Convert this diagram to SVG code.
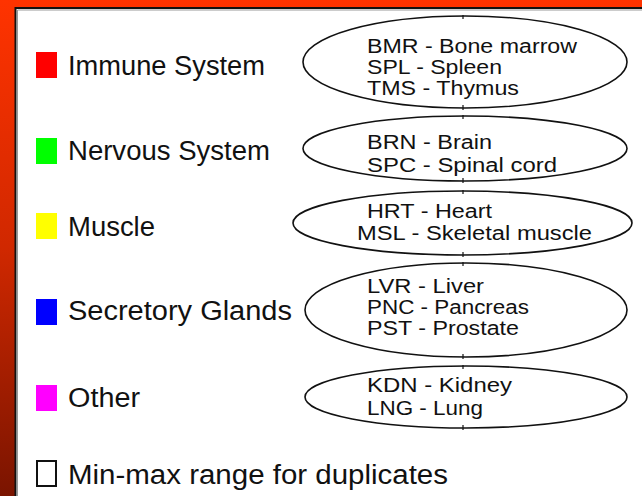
<svg xmlns="http://www.w3.org/2000/svg" width="642" height="496" viewBox="0 0 642 496">
<defs>
<linearGradient id="bg" x1="0" y1="0" x2="0" y2="1">
<stop offset="0" stop-color="#ff3300"/>
<stop offset="0.5" stop-color="#d02800"/>
<stop offset="1" stop-color="#7a1400"/>
</linearGradient>
<style>
.lg{font-family:"Liberation Sans","DejaVu Sans",sans-serif;font-size:27px;fill:#111}
.et{font-family:"Liberation Sans","DejaVu Sans",sans-serif;font-size:20px;fill:#111}
.ell{fill:none;stroke:#111;stroke-width:1.6}
.tick{stroke:#111;stroke-width:1.2}
</style>
</defs>
<rect x="0" y="0" width="642" height="496" fill="url(#bg)"/>
<rect x="16" y="9" width="626" height="487" fill="#fff"/>
<path d="M15.5,496 V8 H642" fill="none" stroke="#111" stroke-width="2"/>
<path d="M17.5,496 V10 H642" fill="none" stroke="#999" stroke-width="1"/>

<g id="immune">
<rect x="36" y="52" width="21" height="26" fill="#ff0000"/>
<text class="lg" x="68" y="75" textLength="197" lengthAdjust="spacingAndGlyphs">Immune System</text>
</g>
<g id="nervous">
<rect x="36" y="138" width="21" height="26" fill="#00ff00"/>
<text class="lg" x="68" y="160" textLength="202" lengthAdjust="spacingAndGlyphs">Nervous System</text>
</g>
<g id="muscle">
<rect x="36" y="213" width="21" height="26" fill="#ffff00"/>
<text class="lg" x="68" y="236" textLength="87" lengthAdjust="spacingAndGlyphs">Muscle</text>
</g>
<g id="secretory">
<rect x="36" y="299" width="21" height="26" fill="#0000ff"/>
<text class="lg" x="68" y="320" textLength="224" lengthAdjust="spacingAndGlyphs">Secretory Glands</text>
</g>
<g id="other">
<rect x="36" y="385" width="21" height="26" fill="#ff00ff"/>
<text class="lg" x="68" y="407" textLength="72" lengthAdjust="spacingAndGlyphs">Other</text>
</g>
<g id="minmax">
<rect x="37" y="461" width="19" height="25" fill="#fff" stroke="#111" stroke-width="2"/>
<text class="lg" x="68" y="484" textLength="380" lengthAdjust="spacingAndGlyphs">Min-max range for duplicates</text>
</g>

<g id="e-immune">
<ellipse class="ell" cx="465" cy="62" rx="162" ry="46"/>
<line class="tick" x1="463" y1="15" x2="463" y2="19"/>
<line class="tick" x1="463" y1="105" x2="463" y2="110"/>
<text class="et" x="367" y="53" textLength="210" lengthAdjust="spacingAndGlyphs">BMR - Bone marrow</text>
<text class="et" x="367" y="74" textLength="135" lengthAdjust="spacingAndGlyphs">SPL - Spleen</text>
<text class="et" x="367" y="95" textLength="152" lengthAdjust="spacingAndGlyphs">TMS - Thymus</text>
</g>
<g id="e-nervous">
<ellipse class="ell" cx="465" cy="148.5" rx="162" ry="32.5"/>
<line class="tick" x1="463" y1="115" x2="463" y2="119"/>
<line class="tick" x1="463" y1="178" x2="463" y2="183"/>
<text class="et" x="367" y="149" textLength="125" lengthAdjust="spacingAndGlyphs">BRN - Brain</text>
<text class="et" x="367" y="172" textLength="190" lengthAdjust="spacingAndGlyphs">SPC - Spinal cord</text>
</g>
<g id="e-muscle">
<ellipse class="ell" cx="462.5" cy="223" rx="169.5" ry="32"/>
<line class="tick" x1="463" y1="190" x2="463" y2="194"/>
<line class="tick" x1="463" y1="252" x2="463" y2="257"/>
<text class="et" x="367" y="218" textLength="125" lengthAdjust="spacingAndGlyphs">HRT - Heart</text>
<text class="et" x="357" y="240" textLength="235" lengthAdjust="spacingAndGlyphs">MSL - Skeletal muscle</text>
</g>
<g id="e-secretory">
<ellipse class="ell" cx="466" cy="310" rx="161" ry="47"/>
<line class="tick" x1="463" y1="262" x2="463" y2="266"/>
<line class="tick" x1="463" y1="354" x2="463" y2="359"/>
<text class="et" x="367" y="293" textLength="117" lengthAdjust="spacingAndGlyphs">LVR - Liver</text>
<text class="et" x="367" y="314" textLength="162" lengthAdjust="spacingAndGlyphs">PNC - Pancreas</text>
<text class="et" x="367" y="335" textLength="152" lengthAdjust="spacingAndGlyphs">PST - Prostate</text>
</g>
<g id="e-other">
<ellipse class="ell" cx="466" cy="397" rx="161" ry="31"/>
<line class="tick" x1="463" y1="365" x2="463" y2="369"/>
<line class="tick" x1="463" y1="425" x2="463" y2="430"/>
<text class="et" x="367" y="392" textLength="145" lengthAdjust="spacingAndGlyphs">KDN - Kidney</text>
<text class="et" x="367" y="415" textLength="116" lengthAdjust="spacingAndGlyphs">LNG - Lung</text>
</g>
<g id="connectors"/>
</svg>
